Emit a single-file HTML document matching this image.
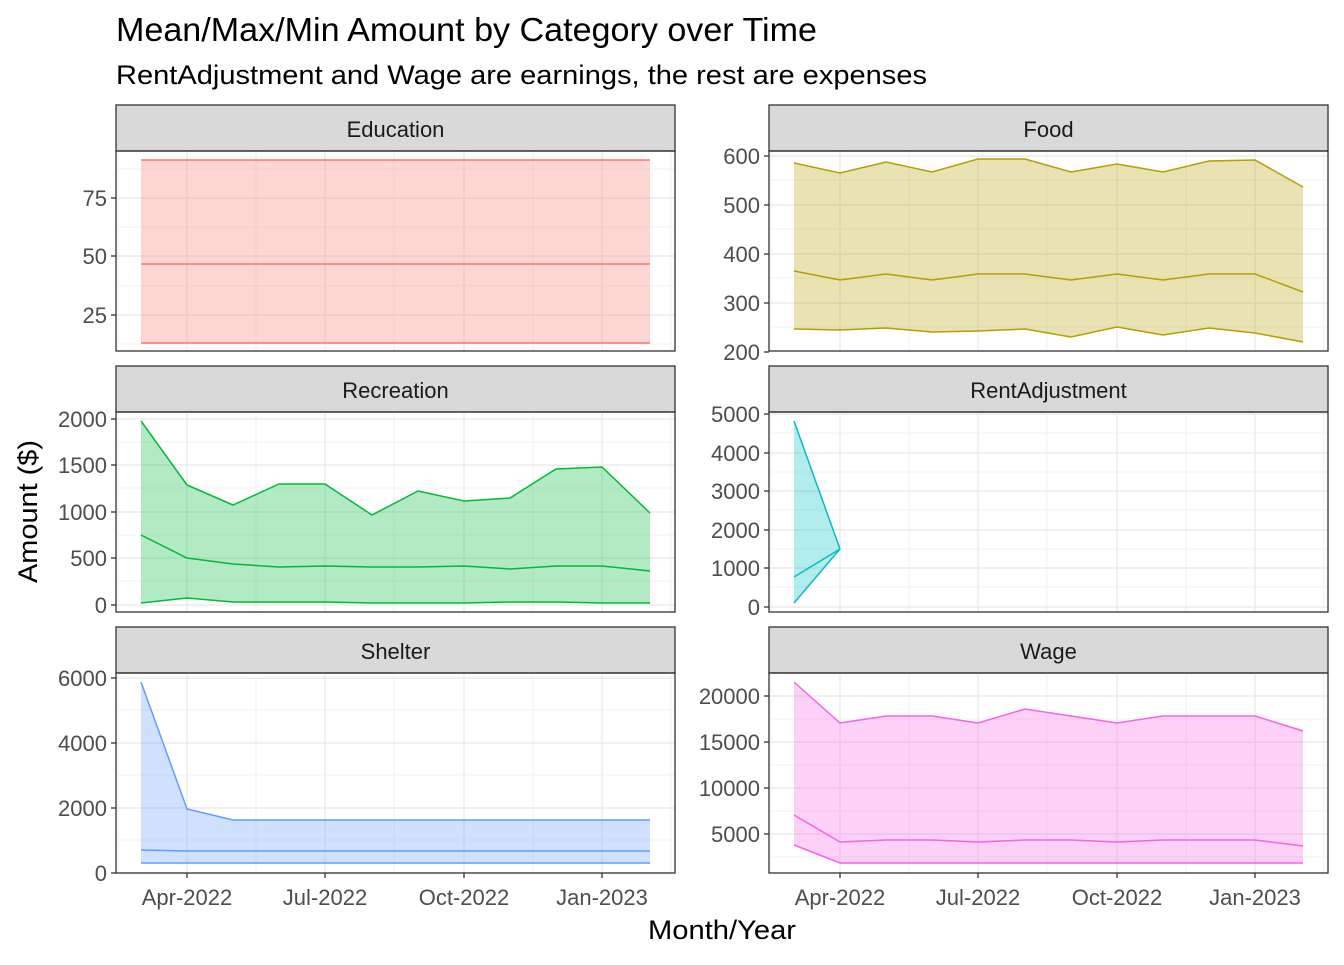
<!DOCTYPE html>
<html><head><meta charset="utf-8"><style>
body{margin:0;background:#fff}
svg text{font-family:"Liberation Sans",Arial,sans-serif}
</style></head><body>
<svg id="s" width="1344" height="960" xmlns="http://www.w3.org/2000/svg"></svg>
<script>
const s=document.getElementById('s');let h='';
h+='<rect width="1344" height="960" fill="#fff"/>';
h+='<text x="116" y="41" font-size="33" textLength="701" lengthAdjust="spacingAndGlyphs" fill="#000">Mean/Max/Min Amount by Category over Time</text>';
h+='<text x="116" y="84" font-size="27" textLength="811" lengthAdjust="spacingAndGlyphs" fill="#000">RentAdjustment and Wage are earnings, the rest are expenses</text>';
h+='<text x="648" y="939" font-size="27" textLength="148" lengthAdjust="spacingAndGlyphs" fill="#000">Month/Year</text>';
h+='<text transform="translate(37,583) rotate(-90)" font-size="27" textLength="143" lengthAdjust="spacingAndGlyphs" fill="#000">Amount ($)</text>';
const LX=[141,187,233,279,325,372,418,464,510,556,602,650];
const majX=[187,325,464,602],minX=[118,256,394,533,671];
const panels=[
{n:'Education',c:'#F8766D',x0:116,y0:151,ticks:[[75,198],[50,256],[25,315]],minY:[169,227,286,344],
 max:Array(12).fill(160),mean:Array(12).fill(264),min:Array(12).fill(343)},
{n:'Food',c:'#B79F00',x0:769,y0:151,ticks:[[600,156],[500,205],[400,254],[300,303],[200,352]],minY:[180,229,278,327],
 max:[163,173,162,172,159,159,172,164,172,161,160,187],mean:[271,280,274,280,274,274,280,274,280,274,274,292],min:[329,330,328,332,331,329,337,327,335,328,333,342]},
{n:'Recreation',c:'#00BA38',x0:116,y0:412,ticks:[[2000,419],[1500,465],[1000,512],[500,558],[0,605]],minY:[442,488,535,581],
 max:[421,485,505,484,484,515,491,501,498,469,467,513],mean:[535,558,564,567,566,567,567,566,569,566,566,571],min:[603,598,602,602,602,603,603,603,602,602,603,603]},
{n:'RentAdjustment',c:'#00BFC4',x0:769,y0:412,ticks:[[5000,414],[4000,453],[3000,491],[2000,530],[1000,568],[0,607]],minY:[433,472,510,549,587],
 max:[421,549],mean:[577,549],min:[603,549]},
{n:'Shelter',c:'#619CFF',x0:116,y0:673,ticks:[[6000,678],[4000,743],[2000,808],[0,873]],minY:[710,775,840],
 max:[682,809,820,820,820,820,820,820,820,820,820,820],mean:[850,851,851,851,851,851,851,851,851,851,851,851],min:[863,863,863,863,863,863,863,863,863,863,863,863]},
{n:'Wage',c:'#F564E3',x0:769,y0:673,ticks:[[20000,696],[15000,742],[10000,788],[5000,834]],minY:[719,765,811,857,673],
 max:[682,723,716,716,723,709,716,723,716,716,716,731],mean:[815,842,840,840,842,840,840,842,840,840,840,846],min:[845,863,863,863,863,863,863,863,863,863,863,863]}
];
panels.forEach((p,i)=>{
 const dx=p.x0-116,W=559,H=200,x0=p.x0,y0=p.y0;
 h+=`<rect x="${x0}" y="${y0-46}" width="${W}" height="46" fill="#D9D9D9" stroke="#333" stroke-width="1.3"/>`;
 h+=`<text x="${x0+W/2}" y="${y0-14}" font-size="22" text-anchor="middle" fill="#1A1A1A">${p.n}</text>`;
 h+=`<svg x="${x0}" y="${y0}" width="${W}" height="${H}" overflow="hidden"><g transform="translate(${-x0},${-y0})">`;
 p.minY.forEach(y=>h+=`<line x1="${x0}" x2="${x0+W}" y1="${y}" y2="${y}" stroke="#F2F2F2" stroke-width="1"/>`);
 minX.forEach(x=>h+=`<line x1="${x+dx}" x2="${x+dx}" y1="${y0}" y2="${y0+H}" stroke="#F2F2F2" stroke-width="1"/>`);
 p.ticks.forEach(t=>h+=`<line x1="${x0}" x2="${x0+W}" y1="${t[1]}" y2="${t[1]}" stroke="#EBEBEB" stroke-width="1.4"/>`);
 majX.forEach(x=>h+=`<line x1="${x+dx}" x2="${x+dx}" y1="${y0}" y2="${y0+H}" stroke="#EBEBEB" stroke-width="1.4"/>`);
 const xs=p.max.map((_,k)=>LX[k]+dx);
 const pts=a=>a.map((y,k)=>xs[k]+','+y).join(' ');
 const poly=pts(p.max)+' '+p.min.map((y,k)=>xs[k]+','+y).reverse().join(' ');
 h+=`<polygon points="${poly}" fill="${p.c}" fill-opacity="0.3"/>`;
 [p.max,p.mean,p.min].forEach(a=>h+=`<polyline points="${pts(a)}" fill="none" stroke="${p.c}" stroke-width="1.5"/>`);
 h+='</g></svg>';
 h+=`<rect x="${x0}" y="${y0}" width="${W}" height="${H}" fill="none" stroke="#333" stroke-width="1.3"/>`;
 p.ticks.forEach(t=>{h+=`<line x1="${x0-5}" x2="${x0}" y1="${t[1]}" y2="${t[1]}" stroke="#333" stroke-width="1.3"/>`;
  h+=`<text x="${x0-9}" y="${t[1]+8}" font-size="22" text-anchor="end" fill="#4D4D4D">${t[0]}</text>`;});
 if(i>=4){const L=['Apr-2022','Jul-2022','Oct-2022','Jan-2023'];
  majX.forEach((x,k)=>{h+=`<line x1="${x+dx}" x2="${x+dx}" y1="${y0+H}" y2="${y0+H+5}" stroke="#333" stroke-width="1.3"/>`;
  h+=`<text x="${x+dx}" y="${y0+H+32}" font-size="22" text-anchor="middle" fill="#4D4D4D">${L[k]}</text>`;});}
});
s.innerHTML=h;
</script>
</body></html>
